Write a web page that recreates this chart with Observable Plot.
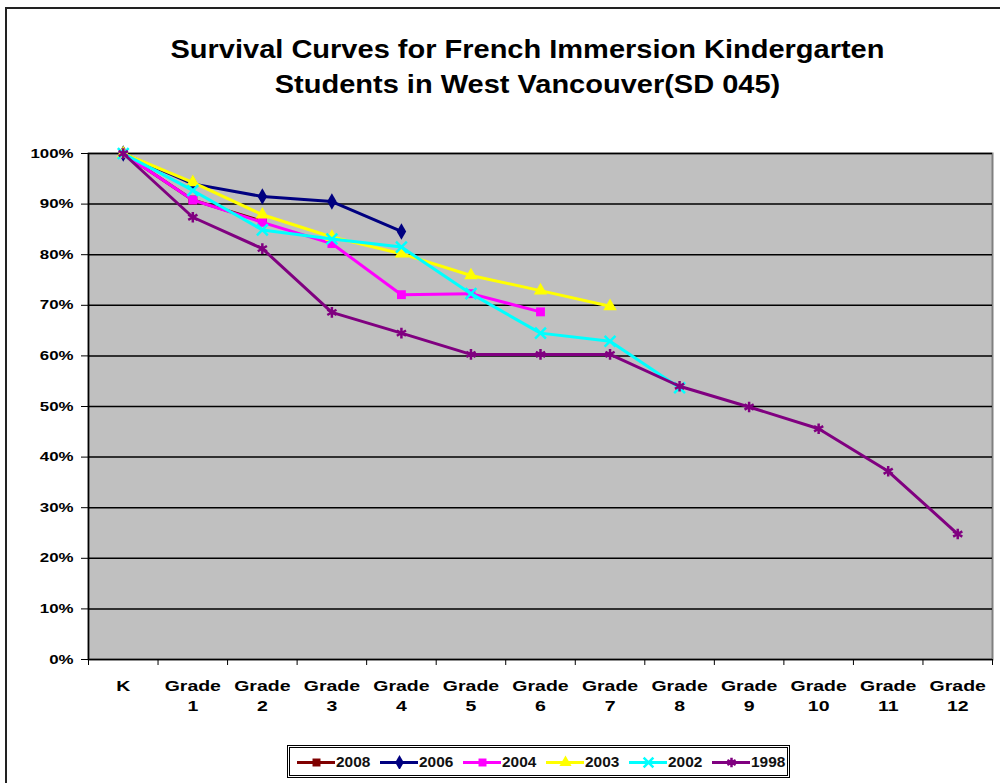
<!DOCTYPE html>
<html>
<head>
<meta charset="utf-8">
<script src="https://cdn.jsdelivr.net/npm/d3@7"></script>
<script src="https://cdn.jsdelivr.net/npm/@observablehq/plot@0.6"></script>
<style>
  html, body { margin: 0; padding: 0; width: 1000px; height: 783px; overflow: hidden; background: #fff; font-family: "Liberation Sans", Arial, sans-serif; }
  #frame { position: absolute; left: 5px; top: 7px; width: 1100px; height: 900px; border: 2px solid #222; box-sizing: border-box; }
  #title { position: absolute; left: 0; top: 32px; width: 1055px; text-align: center; font-size: 25px; font-weight: bold; line-height: 35px; color: #000; transform: scaleX(1.16); transform-origin: 527.5px 0; }
  #chart { position: absolute; left: 0; top: 140px; }
  #legend { position: absolute; left: 287px; top: 745px; width: 503px; height: 33px; box-sizing: border-box; border: 3px double #000; display: flex; align-items: center; padding-left: 7px; }
  .item { display: flex; align-items: center; width: 83px; flex: none; font-size: 14px; font-weight: bold; color: #111; }
  .item svg { display: block; margin-right: 1px; }
  .item span { display: inline-block; transform: scaleX(1.1); transform-origin: 0 50%; }
</style>
</head>
<body>
<div id="frame"></div>
<div id="title">Survival Curves for French Immersion Kindergarten<br>Students in West Vancouver(SD 045)</div>
<div id="chart"></div>
<div id="legend"></div>
<script>
// Categories (x axis)
const grades = ["K", "Grade\n1", "Grade\n2", "Grade\n3", "Grade\n4", "Grade\n5", "Grade\n6",
                "Grade\n7", "Grade\n8", "Grade\n9", "Grade\n10", "Grade\n11", "Grade\n12"];
// Series (cohort start years) and survival percentages by grade
const years = ["2008", "2006", "2004", "2003", "2002", "1998"];
const v2008 = [100, 90.8, 86.6];
const v2006 = [100, 94.0, 91.5, 90.5, 84.6];
const v2004 = [100, 90.8, 86.4, 82.2, 72.1, 72.3, 68.7];
const v2003 = [100, 94.3, 87.9, 83.5, 80.2, 75.9, 72.9, 69.8];
const v2002 = [100, 92.7, 84.9, 83.1, 81.5, 72.3, 64.5, 62.9, 53.7];
const v1998 = [100, 87.4, 81.2, 68.6, 64.5, 60.3, 60.3, 60.3, 54.0, 49.9, 45.6, 37.2, 24.8];
const yTicks = [0, 10, 20, 30, 40, 50, 60, 70, 80, 90, 100];

const seriesValues = [v2008, v2006, v2004, v2003, v2002, v1998];
const colors = ["#800000", "#000080", "#FF00FF", "#FFFF00", "#00FFFF", "#800080"];
const symbols = ["square", "diamond", "square", "triangle", "times", "asterisk"];
const stroked = [false, false, false, false, true, true];

const rows = [];
years.forEach((yr, s) => seriesValues[s].forEach((v, i) => rows.push({year: yr, s, i, v: v / 100})));

const marks = [
  Plot.frame({fill: "#C0C0C0", stroke: "#808080", strokeWidth: 2}),
  Plot.ruleY(yTicks.map(d => d / 100), {stroke: "#000", strokeWidth: 1.5}),
  Plot.ruleX([-0.5], {stroke: "#000", strokeWidth: 1.5}),
  Plot.axisY({ticks: yTicks.map(d => d / 100), tickFormat: d3.format(".0%"), tickSize: 7, tickPadding: 8,
              fontSize: 12.5, fontWeight: "bold", label: null}),
  Plot.axisX({ticks: d3.range(-0.5, 13, 1), tickSize: 6, tickFormat: () => "", label: null}),
  Plot.axisX({ticks: d3.range(13), tickSize: 0, tickPadding: 18, tickFormat: i => grades[i],
              fontSize: 15, fontWeight: "bold", lineHeight: 1.3, label: null})
];
years.forEach((yr, s) => {
  const d = rows.filter(r => r.s === s);
  marks.push(Plot.line(d, {x: "i", y: "v", stroke: colors[s], strokeWidth: 3}));
  marks.push(Plot.dot(d, stroked[s]
    ? {x: "i", y: "v", symbol: symbols[s], stroke: colors[s], strokeWidth: 2.5, r: 5}
    : {x: "i", y: "v", symbol: symbols[s], fill: colors[s], r: 5}));
});

const chart = Plot.plot({
  width: 1000,
  height: 600,
  marginLeft: 88,
  marginRight: 8,
  marginTop: 13,
  marginBottom: 81,
  style: {fontFamily: "Liberation Sans, Arial, sans-serif", color: "#000", background: "transparent"},
  x: {type: "linear", domain: [-0.5, 12.5]},
  y: {domain: [0, 1]},
  marks
});
// widen tick labels horizontally (the reference text is stretched)
chart.querySelectorAll('g[aria-label="y-axis tick label"] text').forEach(t => {
  t.setAttribute("transform", (t.getAttribute("transform") || "") + " scale(1.35,1)");
});
chart.querySelectorAll('g[aria-label="x-axis tick label"] text').forEach(t => {
  t.setAttribute("transform", (t.getAttribute("transform") || "") + " scale(1.3,1)");
});
document.getElementById("chart").appendChild(chart);

// Legend (HTML, built from the series arrays)
const legend = document.getElementById("legend");
years.forEach((yr, s) => {
  const item = document.createElement("div");
  item.className = "item";
  const sw = Plot.plot({
    width: 38, height: 14, margin: 0, axis: null,
    x: {domain: [0, 2]}, y: {domain: [0, 1]},
    style: {background: "transparent"},
    marks: [
      Plot.ruleY([0.5], {stroke: colors[s], strokeWidth: 3}),
      Plot.dot([{x: 1, y: 0.5}], stroked[s]
        ? {x: "x", y: "y", symbol: symbols[s], stroke: colors[s], strokeWidth: 2.5, r: 4.5}
        : {x: "x", y: "y", symbol: symbols[s], fill: colors[s], r: 4.5})
    ]
  });
  item.appendChild(sw);
  const t = document.createElement("span");
  t.textContent = yr;
  item.appendChild(t);
  legend.appendChild(item);
});
</script>
</body>
</html>
